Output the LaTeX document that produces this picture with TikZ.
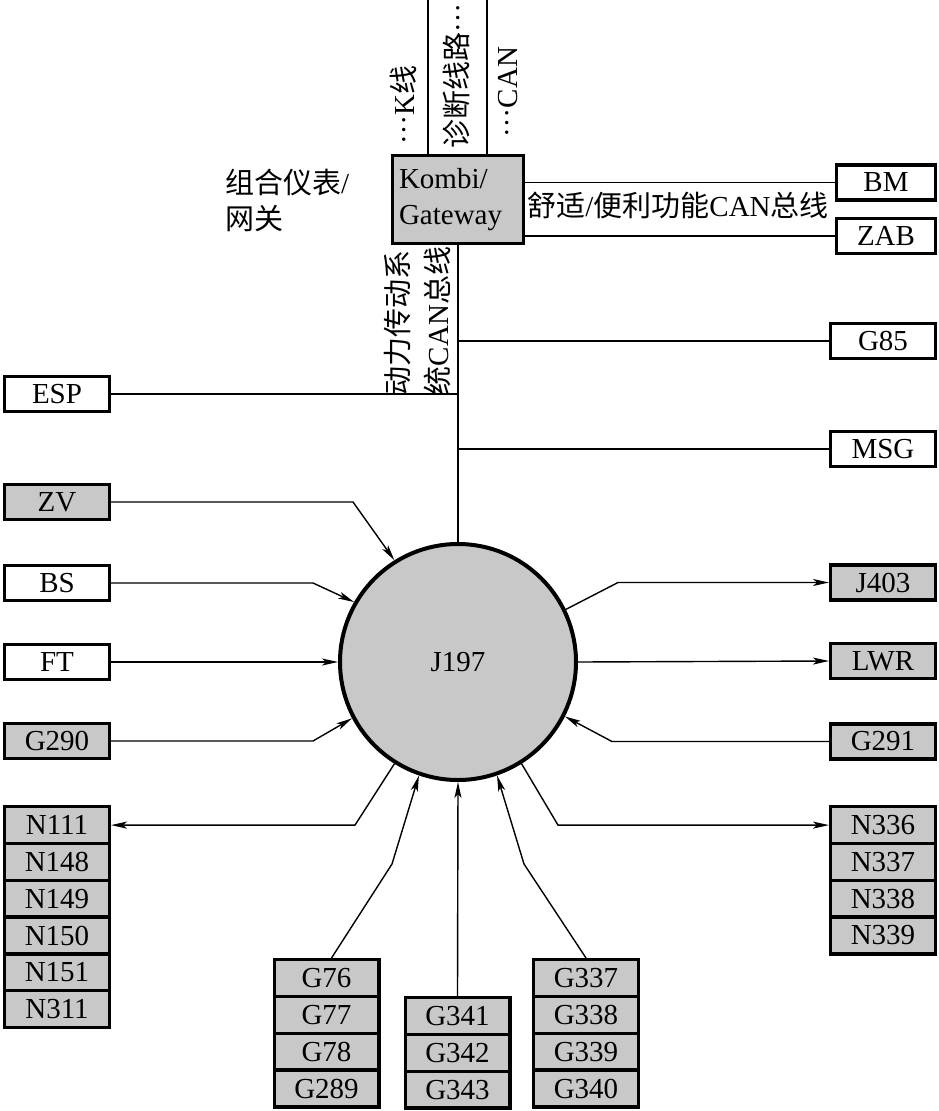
\documentclass[tikz,border=0pt]{standalone}
\usepackage{fontspec}
\setmainfont{Liberation Serif}
\newfontfamily\cjk{Noto Sans CJK SC}
\usetikzlibrary{arrows.meta}
\definecolor{boxgray}{RGB}{200,200,200}
\newcommand\mydots{\raisebox{0.3em}{…}}
\begin{document}
\begin{tikzpicture}[x=1pt,y=-1pt,
  every node/.style={font=\fontsize{29}{36}\selectfont},
  box/.style={draw, line width=3.4pt, minimum width=104.6pt, minimum height=35.3pt, inner sep=0pt},
  gbox/.style={box, fill=boxgray},
  srow/.style={gbox, minimum height=36.8pt},
  conn/.style={line width=1.4pt},
  arr/.style={conn, -{Stealth[length=16pt,width=7pt,inset=4pt]}},
  lbl/.style={inner sep=0pt}
]
\useasboundingbox (0,0) rectangle (939,1111);

% gateway
\node[gbox, minimum width=130.6pt, minimum height=87.6pt, text width=118pt, align=left] (kombi) at (458,199.5) {Kombi/\\Gateway};

% J197
\node[circle, draw, line width=4pt, fill=boxgray, minimum size=236pt, inner sep=0pt] (J197) at (458,662) {J197};

% single boxes
\node[box, minimum width=98.6pt] (BM) at (886,182.5) {BM};
\node[box, minimum width=98.6pt] (ZAB) at (886,236) {ZAB};
\node[box] (G85) at (883,341) {G85};
\node[box] (ESP) at (57,394) {ESP};
\node[box] (MSG) at (883,449) {MSG};
\node[gbox] (ZV) at (57,502) {ZV};
\node[box] (BS) at (57,583) {BS};
\node[box] (FT) at (57,662) {FT};
\node[gbox] (G290) at (57,741) {G290};
\node[gbox] (J403) at (883,582.5) {J403};
\node[gbox] (LWR) at (883,661) {LWR};
\node[gbox] (G291) at (883,741.5) {G291};

% stacks
\foreach \t [count=\i from 0] in {N111,N148,N149,N150,N151,N311}
  \node[srow] (\t) at (57,825.1+36.8*\i) {\t};
\foreach \t [count=\i from 0] in {N336,N337,N338,N339}
  \node[srow] (\t) at (883,825.1+36.8*\i) {\t};
\foreach \t [count=\i from 0] in {G76,G77,G78,G289}
  \node[srow] (\t) at (326.5,978.1+36.8*\i) {\t};
\foreach \t [count=\i from 0] in {G341,G342,G343}
  \node[srow] (\t) at (457.5,1016.1+36.8*\i) {\t};
\foreach \t [count=\i from 0] in {G337,G338,G339,G340}
  \node[srow] (\t) at (586,978.1+36.8*\i) {\t};

% texts
\node[lbl, anchor=west, align=left] (lblkombi) at (225,200) {{\cjk 组合仪表}/\\{\cjk 网关}};
\node[lbl] (lblcomf) at (678,205) {{\cjk 舒适}/{\cjk 便利功能}CAN{\cjk 总线}};
\node[lbl, rotate=90, align=left, font=\fontsize{29}{40}\selectfont] (lblpt) at (417,321) {{\cjk 动力传动系}\\{\cjk 统}CAN{\cjk 总线}};
\node[lbl, rotate=90] (lblk) at (403,105) {\mydots K{\cjk 线}};
\node[lbl, rotate=90] (lbldiag) at (457,76) {{\cjk 诊断线路}\mydots};
\node[lbl, rotate=90] (lblcan) at (508,92) {\mydots CAN};

% top lines
\coordinate (t1) at (428,0);
\coordinate (t2) at (487,0);
\draw[conn] (t1) -- (t1 |- kombi.north);
\draw[conn] (t2) -- (t2 |- kombi.north);

% comfort bus
\draw[conn] (kombi.east |- BM.west) -- (BM.west);
\draw[conn] (kombi.east |- ZAB.west) -- (ZAB.west);

% powertrain bus
\draw[conn] (kombi.south) -- (J197.north);
\draw[conn] (kombi.south |- G85.west) -- (G85.west);
\draw[conn] (ESP.east) -- (kombi.south |- ESP.east);
\draw[conn] (kombi.south |- MSG.west) -- (MSG.west);

% bends
\coordinate (bZV) at (353,502);
\coordinate (bBS) at (313,583);
\coordinate (bG290) at (313,741);
\coordinate (bJ403) at (618,582.5);
\coordinate (bG291) at (612,741.5);
\coordinate (bN336) at (558,825.1);
\coordinate (bN111) at (355,825.1);
\coordinate (bG76) at (392,864);
\coordinate (bG337) at (524,864);

\draw[arr] (ZV.east) -- (bZV) -- (J197.122.5);
\draw[arr] (BS.east) -- (bBS) -- (J197.150.3);
\draw[arr] (FT.east) -- (J197.west);
\draw[arr] (G290.east) -- (bG290) -- (J197.208.7);
\draw[arr] (J197.26.4) -- (bJ403) -- (J403.west);
\draw[arr] (J197.east) -- (LWR.west);
\draw[arr] (G291.west) -- (bG291) -- (J197.-27.2);
\draw[arr] (J197.-58.9) -- (bN336) -- (N336.west);
\draw[arr] (J197.238.9) -- (bN111) -- (N111.east);
\draw[arr] ([xshift=5pt]G76.north) -- (bG76) -- (J197.251);
\draw[arr] (G341.north) -- (J197.south);
\draw[arr] (G337.north) -- (bG337) -- (J197.289);
\end{tikzpicture}
\end{document}
